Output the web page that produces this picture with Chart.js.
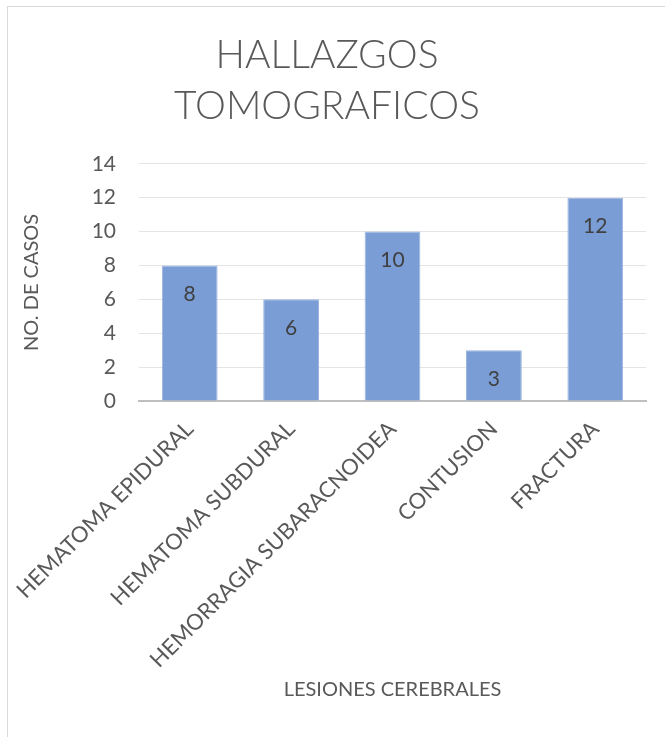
<!DOCTYPE html>
<html>
<head>
<meta charset="utf-8">
<script src="https://cdn.jsdelivr.net/npm/chart.js@4.4.1/dist/chart.umd.min.js"></script>
<style>
  html, body { margin: 0; padding: 0; background: #fff; }
  #box {
    position: absolute; left: 7px; top: 6px; width: 657px; height: 730px;
    border-left: 1px solid #d9d9d9; border-top: 1px solid #d9d9d9;
  }
  #chart { display: block; }
</style>
</head>
<body>
<div id="box"><canvas id="chart" width="657" height="730"></canvas></div>
<script>
// data
var categories = ['HEMATOMA EPIDURAL', 'HEMATOMA SUBDURAL', 'HEMORRAGIA SUBARACNOIDEA', 'CONTUSION', 'FRACTURA'];
var casos = [8, 6, 10, 3, 12];
var titleLines = ['HALLAZGOS', 'TOMOGRAFICOS'];
var yTitle = 'NO. DE CASOS';
var xTitle = 'LESIONES CEREBRALES';

var FONT = 'Lato, "Open Sans", sans-serif';
var GREY = '#595959';

// value labels inside the bars, near the top
var barLabels = {
  id: 'barLabels',
  afterDatasetsDraw: function(chart){
    var ctx = chart.ctx;
    var meta = chart.getDatasetMeta(0);
    ctx.save();
    ctx.font = '21px ' + FONT;
    ctx.fillStyle = '#404040';
    ctx.textAlign = 'center';
    ctx.textBaseline = 'middle';
    meta.data.forEach(function(bar, i){
      ctx.fillText(String(casos[i]), bar.x, bar.y + 29);
    });
    ctx.restore();
  }
};

new Chart(document.getElementById('chart').getContext('2d'), {
  type: 'bar',
  data: {
    labels: categories,
    datasets: [{
      data: casos,
      backgroundColor: '#7a9dd6',
      borderColor: '#9ab4e2',
      borderWidth: 1,
      categoryPercentage: 1,
      barPercentage: 0.55
    }]
  },
  options: {
    responsive: false,
    animation: false,
    layout: { padding: { left: 0, right: 19, top: 0, bottom: 25 } },
    plugins: {
      legend: { display: false },
      tooltip: { enabled: false },
      title: {
        display: true,
        text: titleLines,
        color: GREY,
        font: { family: FONT, size: 39, weight: '300', lineHeight: 1.33 },
        padding: { top: 22, bottom: 31 }
      }
    },
    scales: {
      y: {
        min: 0, max: 14,
        ticks: { stepSize: 2, color: GREY, font: { family: FONT, size: 21 }, padding: 23 },
        grid: { color: '#e4e4e4', drawTicks: false },
        border: { display: false },
        title: { display: true, text: yTitle, color: GREY, font: { family: FONT, size: 20 }, padding: { top: 12, bottom: 0 } },
        afterFit: function(s){ s.width = 131; }
      },
      x: {
        ticks: { color: GREY, font: { family: FONT, size: 22 }, minRotation: 45, maxRotation: 45, padding: 7 },
        grid: { display: false },
        border: { color: '#bfbfbf', width: 2 },
        title: { display: true, text: xTitle, color: GREY, font: { family: FONT, size: 20 }, padding: { top: 4, bottom: 10 } },
        afterFit: function(s){ s.height = 311; s.paddingLeft = 0; s.paddingRight = 0; }
      }
    }
  },
  plugins: [barLabels]
});
</script>
</body>
</html>
